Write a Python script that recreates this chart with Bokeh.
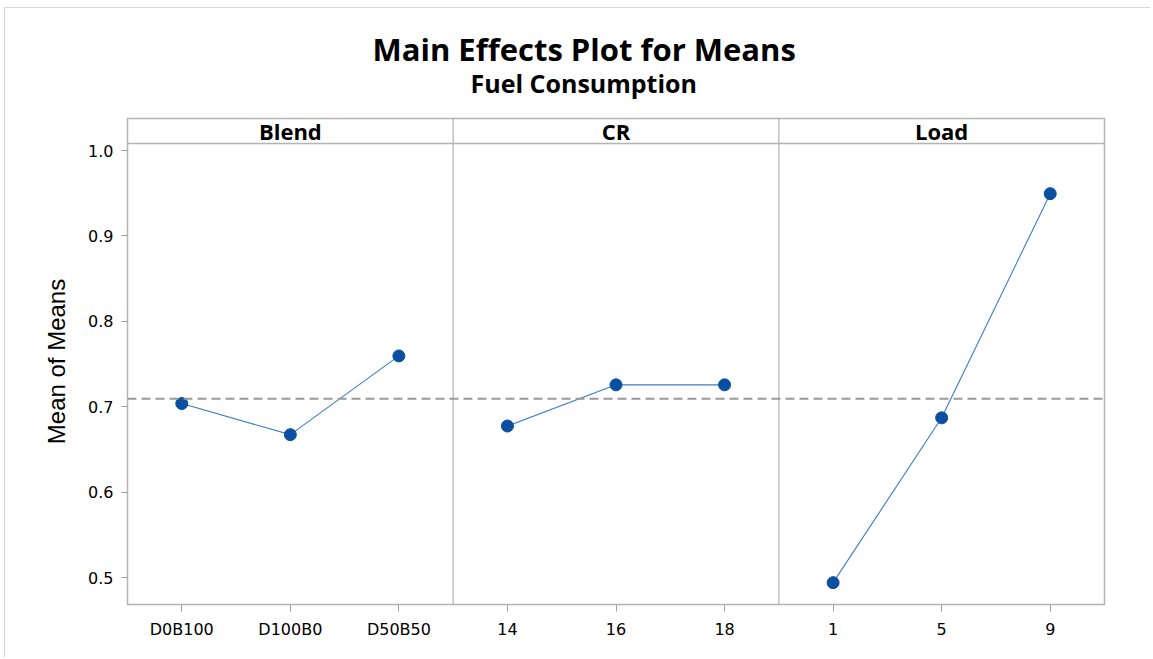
from bokeh.plotting import figure
from bokeh.models import Span, FixedTicker, Title, ColumnDataSource
from bokeh.core.properties import value
from bokeh.embed import file_html
from bokeh.resources import INLINE

# ---- data ----
factors = ["Blend", "CR", "Load"]
blend_levels = ["D0B100", "D100B0", "D50B50"]
blend_means = [0.7037, 0.6673, 0.7595]
cr_levels = ["14", "16", "18"]
cr_means = [0.6774, 0.7256, 0.7256]
load_levels = ["1", "5", "9"]
load_means = [0.494, 0.687, 0.9495]
grand_mean = 0.7094
y_ticks = [0.5, 0.6, 0.7, 0.8, 0.9, 1.0]
title_text = "Main Effects Plot for Means"
subtitle_text = "Fuel Consumption"

levels = [blend_levels, cr_levels, load_levels]
means = [blend_means, cr_means, load_means]

Y_LO, Y_HI = 0.4684, 1.0375
HEADER_LINE = 1.0082

p = figure(width=1146, height=650, output_backend="svg", toolbar_location=None,
           x_range=(0, 9), y_range=(Y_LO, Y_HI),
           min_border_left=122, min_border_right=47, min_border_top=110, min_border_bottom=54)
p.styles = {"margin-left": "4px", "margin-top": "7px",
            "border-left": "1px solid #d8d8d8", "border-top": "1px solid #d8d8d8"}
p.xgrid.visible = False
p.ygrid.visible = False
p.outline_line_color = "#b4b4b4"
p.outline_line_width = 1.5
p.background_fill_color = "white"
p.border_fill_color = "white"

# titles (stacked above the frame; first added is closest to the frame)
p.add_layout(Title(text=" ", text_font_size="16px", standoff=0), "above")
p.add_layout(Title(text=subtitle_text, align="left", offset=343, text_font="Open Sans",
                   text_font_size="25px", text_font_style="bold", text_color="black",
                   standoff=0), "above")
p.add_layout(Title(text=title_text, align="left", offset=245, text_font="Open Sans",
                   text_font_size="31px", text_font_style="bold", text_color="black",
                   standoff=-12), "above")

# axes
tick_pos = []
overrides = {}
for k, lv in enumerate(levels):
    for i, name in enumerate(lv):
        xpos = k * 3 + i + 0.5
        tick_pos.append(xpos)
        overrides[xpos] = name
p.xaxis.ticker = FixedTicker(ticks=tick_pos)
p.xaxis.major_label_overrides = overrides
p.xaxis.minor_tick_line_color = None
p.xaxis.major_tick_line_color = "#a0a0a0"
p.xaxis.major_tick_out = 7
p.xaxis.major_tick_in = 0
p.xaxis.axis_line_color = "#b4b4b4"
p.xaxis.major_label_text_font = "DejaVu Sans"
p.xaxis.major_label_text_font_size = "16px"
p.xaxis.major_label_text_color = "black"
p.xaxis.major_label_standoff = 8

p.yaxis.ticker = FixedTicker(ticks=y_ticks)
p.yaxis.major_label_overrides = {t: f"{t:.1f}" for t in y_ticks}
p.yaxis.minor_tick_line_color = None
p.yaxis.major_tick_line_color = "#a0a0a0"
p.yaxis.major_tick_out = 6
p.yaxis.major_tick_in = 0
p.yaxis.axis_line_color = "#b4b4b4"
p.yaxis.major_label_text_font = "DejaVu Sans"
p.yaxis.major_label_text_font_size = "16px"
p.yaxis.major_label_text_color = "black"
p.yaxis.major_label_standoff = 8
p.yaxis.axis_label = "Mean of Means"
p.yaxis.axis_label_text_font = "Liberation Sans"
p.yaxis.axis_label_text_font_size = "24px"
p.yaxis.axis_label_text_font_style = "normal"
p.yaxis.axis_label_text_color = "black"
p.yaxis.axis_label_standoff = 15

# panel structure
for d in [3, 6]:
    p.add_layout(Span(location=d, dimension="height", line_color="#b4b4b4", line_width=1.2))
p.add_layout(Span(location=HEADER_LINE, dimension="width", line_color="#b4b4b4", line_width=1.5))
p.add_layout(Span(location=grand_mean, dimension="width", line_color="#999999",
                  line_width=2, line_dash="9 5"))

p.text(x=[1.5, 4.5, 7.5], y=[(HEADER_LINE + Y_HI) / 2] * 3, text=factors,
       text_font=value("Open Sans"), text_font_size="22px", text_font_style="bold",
       text_align="center", text_baseline="middle", text_color="black")

for k in range(3):
    xs = [k * 3 + i + 0.5 for i in range(3)]
    src = ColumnDataSource(dict(x=xs, y=means[k]))
    p.line("x", "y", source=src, line_color="#3c7cc8", line_width=1.1)
    p.scatter("x", "y", source=src, size=12, fill_color="#0a4fa0", line_color="#0a4fa0")

open("out.html", "w").write(file_html(p, INLINE))
